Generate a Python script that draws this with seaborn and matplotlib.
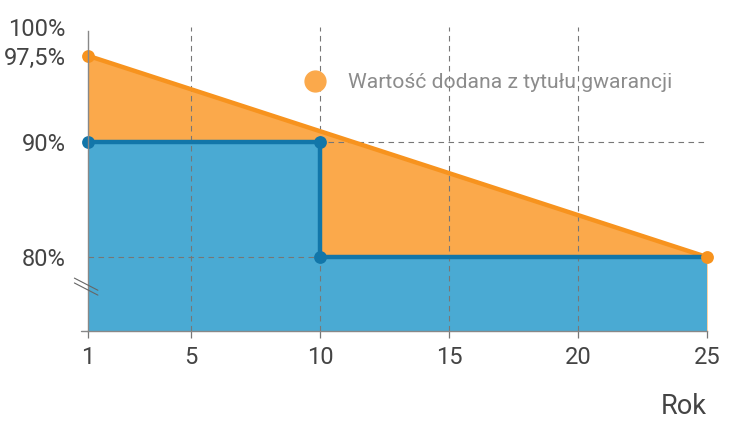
import matplotlib
matplotlib.use("Agg")
import matplotlib.pyplot as plt
import seaborn as sns
from matplotlib.lines import Line2D

# data
years_guarantee = [1, 25]
value_guarantee = [97.5, 80]          # z gwarancją
years_base = [1, 10, 10, 25]
value_base = [90, 90, 80, 80]         # bez gwarancji (schodek)
base_marker_idx = [0, 1, 2]           # kropki na schodku

x_ticks = [1, 5, 10, 15, 20, 25]
x_grid = [5, 10, 15, 20]
y_ticks = [80, 90, 97.5, 100]
y_tick_labels = ["80%", "90%", "97,5%", "100%"]
y_grid = [80, 90]
legend_label = "Wartość dodana z tytułu gwarancji"

ORANGE_FILL = "#FBA94B"
ORANGE_LINE = "#F7931E"
BLUE_FILL = "#4AAAD3"
BLUE_LINE = "#1276A9"
TXT = "#444444"

sns.set_theme(style="white")
plt.rcParams["font.family"] = ["Roboto", "DejaVu Sans"]

fig = plt.figure(figsize=(7.34, 4.29), dpi=100)
ax = fig.add_axes([88 / 734, 1 - 331 / 429, 619 / 734, 304 / 429])

ymin, ymax = 73.57, 100

# fills
ax.fill_between(years_guarantee, value_guarantee, ymin, color=ORANGE_FILL, lw=0, zorder=1)
ax.fill_between(years_base, value_base, ymin, color=BLUE_FILL, lw=0, zorder=1.1)

# dashed grid on top of the fills
for gx in x_grid:
    ax.axvline(gx, color="#777777", lw=0.8, ls=(0, (5, 4)), zorder=1.5)
for gy in y_grid:
    ax.axhline(gy, color="#777777", lw=0.8, ls=(0, (5, 4)), zorder=1.5)

# lines (estimator=None keeps the vertical step at x=10)
sns.lineplot(x=years_guarantee, y=value_guarantee, color=ORANGE_LINE, lw=3.2,
             ax=ax, zorder=3, sort=False, estimator=None)
sns.lineplot(x=years_base, y=value_base, color=BLUE_LINE, lw=3.2,
             ax=ax, zorder=3.5, sort=False, estimator=None)
ax.scatter(years_guarantee, value_guarantee, s=85, color=ORANGE_LINE, zorder=4, lw=0,
           clip_on=False)
ax.scatter([years_base[i] for i in base_marker_idx],
           [value_base[i] for i in base_marker_idx],
           s=85, color=BLUE_LINE, zorder=4.5, lw=0, clip_on=False)

ax.set_xlim(1, 25)
ax.set_ylim(ymin, ymax)
ax.set_xticks(x_ticks)
ax.set_xticklabels([str(v) for v in x_ticks])
ax.set_yticks(y_ticks)
ax.set_yticklabels(y_tick_labels)
ax.tick_params(axis="x", length=5, width=0.9, color="#777777", pad=6,
               labelsize=17, labelcolor=TXT, bottom=True)
ax.tick_params(axis="y", length=0, pad=16, labelsize=17, labelcolor=TXT)

for side in ["top", "right"]:
    ax.spines[side].set_visible(False)
for side in ["left", "bottom"]:
    ax.spines[side].set_color("#888888")
    ax.spines[side].set_linewidth(1.0)
    ax.spines[side].set_zorder(5)
ax.spines["left"].set_bounds(ymin, 99.65)

# bottom axis stub to the left of the y-axis
ax.plot([-0.012, 0], [0, 0], transform=ax.transAxes, color="#888888", lw=1.0, clip_on=False)
# axis-break marks
for dy in [0, 0.016]:
    ax.plot([-0.022, 0.016], [0.158 + dy, 0.118 + dy], transform=ax.transAxes,
            color="#666666", lw=0.8, clip_on=False, zorder=6)

ax.set_xlabel("Rok", loc="right", fontsize=19.5, color=TXT, labelpad=17)
ax.set_ylabel("")

handle = Line2D([], [], marker="o", ls="", markersize=15, color=ORANGE_FILL)
leg = ax.legend([handle], [legend_label], loc="center left", frameon=False,
                bbox_to_anchor=(294 / 734, 1 - 83 / 429), bbox_transform=fig.transFigure,
                handletextpad=0.55, borderaxespad=0, borderpad=0,
                prop={"size": 15.2})
for t in leg.get_texts():
    t.set_color("#8C8C8C")

fig.savefig("out.png", dpi=100)
